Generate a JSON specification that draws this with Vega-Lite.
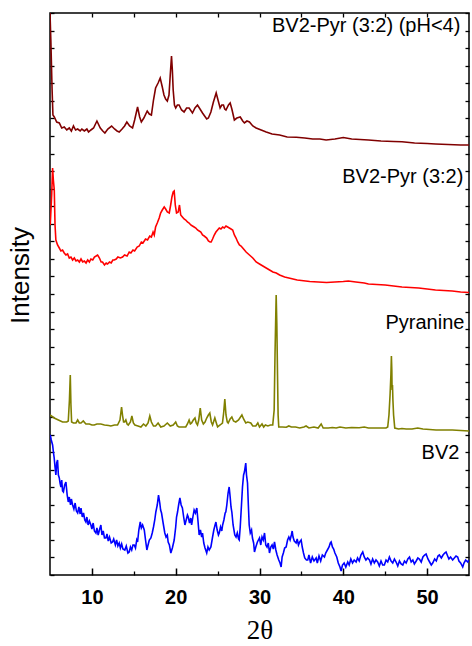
{
  "$schema": "https://vega.github.io/schema/vega-lite/v6.json",
  "autosize": {"type": "none"},
  "width": 419,
  "height": 562,
  "padding": {"left": 50, "top": 13, "right": 3, "bottom": 71},
  "background": "white",
  "config": {"view": {"stroke": "black", "strokeWidth": 1.5}},
  "datasets": {
    "labels": [
      {"x": 53.97, "y": 543, "label": "BV2-Pyr (3:2) (pH<4)"},
      {"x": 54.33, "y": 392, "label": "BV2-Pyr (3:2)"},
      {"x": 54.45, "y": 246, "label": "Pyranine"},
      {"x": 53.85, "y": 116, "label": "BV2"}
    ],
    "traces": [
      {"s":"a","x":5.0,"y":562},{"s":"a","x":5.1,"y":535},{"s":"a","x":5.25,"y":485},{"s":"a","x":5.35,"y":460},{"s":"a","x":5.51,"y":458},{"s":"a","x":5.8,"y":453},{"s":"a","x":6.11,"y":452},{"s":"a","x":6.4,"y":447},{"s":"a","x":6.7,"y":448},{"s":"a","x":7.0,"y":445},{"s":"a","x":7.3,"y":447},{"s":"a","x":7.55,"y":444},{"s":"a","x":7.8,"y":449},{"s":"a","x":8.05,"y":445},{"s":"a","x":8.3,"y":446},{"s":"a","x":8.6,"y":444},{"s":"a","x":8.8,"y":446},{"s":"a","x":9.1,"y":444},{"s":"a","x":9.4,"y":446},{"s":"a","x":9.6,"y":443},{"s":"a","x":9.88,"y":445},{"s":"a","x":10.2,"y":447},{"s":"a","x":10.6,"y":454},{"s":"a","x":11.0,"y":447},{"s":"a","x":11.3,"y":444},{"s":"a","x":11.55,"y":442},{"s":"a","x":11.9,"y":446},{"s":"a","x":12.35,"y":449},{"s":"a","x":12.7,"y":446},{"s":"a","x":13.0,"y":444},{"s":"a","x":13.26,"y":443},{"s":"a","x":13.6,"y":446},{"s":"a","x":13.9,"y":449},{"s":"a","x":14.17,"y":453},{"s":"a","x":14.5,"y":449},{"s":"a","x":14.85,"y":447},{"s":"a","x":15.1,"y":455},{"s":"a","x":15.45,"y":468},{"s":"a","x":15.7,"y":458},{"s":"a","x":15.9,"y":453},{"s":"a","x":16.2,"y":457},{"s":"a","x":16.6,"y":464},{"s":"a","x":16.85,"y":461},{"s":"a","x":17.1,"y":460},{"s":"a","x":17.35,"y":475},{"s":"a","x":17.6,"y":487},{"s":"a","x":17.9,"y":492},{"s":"a","x":18.15,"y":497},{"s":"a","x":18.4,"y":488},{"s":"a","x":18.6,"y":480},{"s":"a","x":18.8,"y":476},{"s":"a","x":19.0,"y":474},{"s":"a","x":19.2,"y":480},{"s":"a","x":19.35,"y":500},{"s":"a","x":19.5,"y":519},{"s":"a","x":19.6,"y":505},{"s":"a","x":19.7,"y":485},{"s":"a","x":19.85,"y":470},{"s":"a","x":20.0,"y":467},{"s":"a","x":20.2,"y":470},{"s":"a","x":20.4,"y":470},{"s":"a","x":20.7,"y":465},{"s":"a","x":21.0,"y":463},{"s":"a","x":21.3,"y":467},{"s":"a","x":21.6,"y":467},{"s":"a","x":22.0,"y":462},{"s":"a","x":22.3,"y":467},{"s":"a","x":22.6,"y":470},{"s":"a","x":22.9,"y":466},{"s":"a","x":23.2,"y":462},{"s":"a","x":23.45,"y":459},{"s":"a","x":23.7,"y":456},{"s":"a","x":23.9,"y":457},{"s":"a","x":24.2,"y":463},{"s":"a","x":24.5,"y":473},{"s":"a","x":24.83,"y":482},{"s":"a","x":25.05,"y":475},{"s":"a","x":25.3,"y":467},{"s":"a","x":25.5,"y":470},{"s":"a","x":25.7,"y":470},{"s":"a","x":25.85,"y":466},{"s":"a","x":26.0,"y":465},{"s":"a","x":26.3,"y":470},{"s":"a","x":26.5,"y":472},{"s":"a","x":26.7,"y":466},{"s":"a","x":27.0,"y":455},{"s":"a","x":27.3,"y":457},{"s":"a","x":27.7,"y":458},{"s":"a","x":28.0,"y":454},{"s":"a","x":28.2,"y":452},{"s":"a","x":28.5,"y":454},{"s":"a","x":28.8,"y":453},{"s":"a","x":29.2,"y":449},{"s":"a","x":29.6,"y":447},{"s":"a","x":30.2,"y":445},{"s":"a","x":30.8,"y":443},{"s":"a","x":31.5,"y":441},{"s":"a","x":32.4,"y":440},{"s":"a","x":33.3,"y":438},{"s":"a","x":34.4,"y":437.7},{"s":"a","x":35.4,"y":437},{"s":"a","x":36.35,"y":436},{"s":"a","x":37.2,"y":436},{"s":"a","x":37.95,"y":435},{"s":"a","x":39.0,"y":436},{"s":"a","x":40.0,"y":437.5},{"s":"a","x":41.0,"y":436},{"s":"a","x":42.0,"y":435.5},{"s":"a","x":43.0,"y":435},{"s":"a","x":44.5,"y":434},{"s":"a","x":46.0,"y":433.5},{"s":"a","x":47.0,"y":433.3},{"s":"a","x":48.5,"y":432},{"s":"a","x":50.0,"y":431.5},{"s":"a","x":51.0,"y":431},{"s":"a","x":52.5,"y":430.5},{"s":"a","x":54.0,"y":430},{"s":"a","x":55.0,"y":430},

      {"s":"b","x":5.03,"y":350},{"s":"b","x":5.2,"y":380},{"s":"b","x":5.31,"y":407},{"s":"b","x":5.4,"y":395},{"s":"b","x":5.51,"y":385},{"s":"b","x":5.6,"y":350},{"s":"b","x":5.7,"y":335},{"s":"b","x":5.9,"y":330},{"s":"b","x":6.11,"y":327},{"s":"b","x":6.3,"y":324},{"s":"b","x":6.5,"y":325},{"s":"b","x":6.7,"y":322},{"s":"b","x":6.9,"y":320},{"s":"b","x":7.1,"y":321},{"s":"b","x":7.3,"y":317},{"s":"b","x":7.5,"y":318},{"s":"b","x":7.7,"y":315},{"s":"b","x":7.9,"y":317},{"s":"b","x":8.1,"y":314},{"s":"b","x":8.3,"y":315},{"s":"b","x":8.5,"y":313},{"s":"b","x":8.7,"y":316},{"s":"b","x":8.9,"y":313},{"s":"b","x":9.1,"y":314},{"s":"b","x":9.3,"y":312},{"s":"b","x":9.5,"y":315},{"s":"b","x":9.7,"y":313},{"s":"b","x":9.88,"y":316},{"s":"b","x":10.1,"y":315},{"s":"b","x":10.3,"y":318},{"s":"b","x":10.5,"y":319},{"s":"b","x":10.68,"y":320},{"s":"b","x":10.9,"y":317},{"s":"b","x":11.1,"y":313},{"s":"b","x":11.27,"y":313},{"s":"b","x":11.5,"y":310},{"s":"b","x":11.7,"y":312},{"s":"b","x":11.87,"y":311},{"s":"b","x":12.1,"y":313},{"s":"b","x":12.3,"y":312},{"s":"b","x":12.5,"y":315},{"s":"b","x":12.67,"y":315},{"s":"b","x":12.9,"y":316},{"s":"b","x":13.1,"y":318},{"s":"b","x":13.4,"y":317},{"s":"b","x":13.66,"y":318},{"s":"b","x":13.9,"y":320},{"s":"b","x":14.2,"y":319},{"s":"b","x":14.45,"y":323},{"s":"b","x":14.65,"y":322},{"s":"b","x":14.9,"y":325},{"s":"b","x":15.1,"y":324},{"s":"b","x":15.4,"y":328},{"s":"b","x":15.65,"y":329},{"s":"b","x":15.9,"y":333},{"s":"b","x":16.1,"y":332},{"s":"b","x":16.4,"y":336},{"s":"b","x":16.64,"y":335},{"s":"b","x":16.9,"y":339},{"s":"b","x":17.1,"y":338},{"s":"b","x":17.3,"y":343},{"s":"b","x":17.44,"y":340},{"s":"b","x":17.6,"y":348},{"s":"b","x":17.8,"y":352},{"s":"b","x":18.03,"y":357},{"s":"b","x":18.2,"y":362},{"s":"b","x":18.4,"y":365},{"s":"b","x":18.63,"y":368},{"s":"b","x":18.8,"y":366},{"s":"b","x":19.0,"y":363},{"s":"b","x":19.23,"y":362},{"s":"b","x":19.4,"y":370},{"s":"b","x":19.55,"y":378},{"s":"b","x":19.7,"y":383},{"s":"b","x":19.82,"y":384},{"s":"b","x":19.95,"y":370},{"s":"b","x":20.1,"y":362},{"s":"b","x":20.3,"y":363},{"s":"b","x":20.45,"y":370},{"s":"b","x":20.6,"y":360},{"s":"b","x":20.8,"y":358},{"s":"b","x":21.0,"y":356},{"s":"b","x":21.2,"y":355},{"s":"b","x":21.4,"y":353},{"s":"b","x":21.6,"y":352},{"s":"b","x":21.8,"y":350},{"s":"b","x":22.0,"y":349},{"s":"b","x":22.2,"y":348},{"s":"b","x":22.4,"y":347},{"s":"b","x":22.6,"y":345},{"s":"b","x":22.8,"y":344},{"s":"b","x":23.0,"y":343},{"s":"b","x":23.2,"y":340},{"s":"b","x":23.4,"y":339},{"s":"b","x":23.7,"y":337},{"s":"b","x":23.9,"y":334},{"s":"b","x":24.1,"y":333},{"s":"b","x":24.23,"y":333},{"s":"b","x":24.4,"y":336},{"s":"b","x":24.6,"y":340},{"s":"b","x":24.8,"y":343},{"s":"b","x":25.0,"y":345},{"s":"b","x":25.2,"y":347},{"s":"b","x":25.4,"y":346},{"s":"b","x":25.6,"y":348},{"s":"b","x":25.8,"y":347},{"s":"b","x":26.0,"y":349},{"s":"b","x":26.2,"y":348},{"s":"b","x":26.4,"y":347},{"s":"b","x":26.6,"y":346},{"s":"b","x":26.8,"y":345},{"s":"b","x":27.0,"y":340},{"s":"b","x":27.2,"y":337},{"s":"b","x":27.4,"y":333},{"s":"b","x":27.6,"y":330},{"s":"b","x":27.8,"y":329},{"s":"b","x":28.0,"y":327},{"s":"b","x":28.4,"y":323},{"s":"b","x":28.8,"y":320},{"s":"b","x":29.2,"y":317},{"s":"b","x":29.6,"y":313},{"s":"b","x":30.0,"y":311},{"s":"b","x":30.4,"y":309},{"s":"b","x":30.8,"y":307},{"s":"b","x":31.2,"y":305},{"s":"b","x":31.6,"y":303},{"s":"b","x":32.0,"y":302},{"s":"b","x":32.4,"y":300},{"s":"b","x":33.0,"y":298},{"s":"b","x":33.5,"y":297},{"s":"b","x":34.0,"y":296},{"s":"b","x":34.5,"y":295},{"s":"b","x":35.0,"y":294.5},{"s":"b","x":35.5,"y":294},{"s":"b","x":36.0,"y":293.5},{"s":"b","x":37.0,"y":293},{"s":"b","x":38.0,"y":292.5},{"s":"b","x":39.0,"y":293},{"s":"b","x":40.0,"y":293.5},{"s":"b","x":40.6,"y":294},{"s":"b","x":41.5,"y":293},{"s":"b","x":42.5,"y":292},{"s":"b","x":43.0,"y":291},{"s":"b","x":44.0,"y":290.5},{"s":"b","x":45.0,"y":290},{"s":"b","x":46.0,"y":289},{"s":"b","x":47.0,"y":288},{"s":"b","x":48.0,"y":287.5},{"s":"b","x":49.0,"y":287},{"s":"b","x":50.0,"y":286},{"s":"b","x":51.0,"y":285},{"s":"b","x":52.0,"y":284.5},{"s":"b","x":53.0,"y":284},{"s":"b","x":54.0,"y":283},{"s":"b","x":55.0,"y":282.5},

      {"s":"c","x":5.0,"y":160},{"s":"c","x":5.5,"y":157},{"s":"c","x":6.0,"y":155},{"s":"c","x":6.5,"y":153},{"s":"c","x":7.0,"y":153},{"s":"c","x":7.18,"y":154},{"s":"c","x":7.32,"y":175},{"s":"c","x":7.42,"y":200},{"s":"c","x":7.5,"y":170},{"s":"c","x":7.58,"y":153},{"s":"c","x":7.8,"y":152},{"s":"c","x":8.1,"y":152},{"s":"c","x":8.3,"y":155},{"s":"c","x":8.5,"y":152},{"s":"c","x":8.7,"y":152},{"s":"c","x":8.97,"y":154},{"s":"c","x":9.28,"y":151},{"s":"c","x":9.7,"y":151},{"s":"c","x":10.0,"y":150},{"s":"c","x":10.28,"y":150},{"s":"c","x":10.6,"y":151},{"s":"c","x":11.07,"y":151},{"s":"c","x":11.5,"y":150},{"s":"c","x":12.0,"y":149.5},{"s":"c","x":12.26,"y":149},{"s":"c","x":12.7,"y":150},{"s":"c","x":13.06,"y":150},{"s":"c","x":13.35,"y":155},{"s":"c","x":13.54,"y":168},{"s":"c","x":13.65,"y":160},{"s":"c","x":13.78,"y":153},{"s":"c","x":13.9,"y":153},{"s":"c","x":14.05,"y":155},{"s":"c","x":14.2,"y":151},{"s":"c","x":14.34,"y":150},{"s":"c","x":14.6,"y":153},{"s":"c","x":14.77,"y":159},{"s":"c","x":14.95,"y":152},{"s":"c","x":15.13,"y":150},{"s":"c","x":15.5,"y":149},{"s":"c","x":15.85,"y":148},{"s":"c","x":16.16,"y":151},{"s":"c","x":16.44,"y":149},{"s":"c","x":16.7,"y":152},{"s":"c","x":16.91,"y":159},{"s":"c","x":17.1,"y":153},{"s":"c","x":17.35,"y":149},{"s":"c","x":17.6,"y":149},{"s":"c","x":17.9,"y":152},{"s":"c","x":18.22,"y":148},{"s":"c","x":18.6,"y":149},{"s":"c","x":19.0,"y":152},{"s":"c","x":19.35,"y":149},{"s":"c","x":19.7,"y":150},{"s":"c","x":20.0,"y":153},{"s":"c","x":20.2,"y":149},{"s":"c","x":20.4,"y":148},{"s":"c","x":20.8,"y":148},{"s":"c","x":21.2,"y":148},{"s":"c","x":21.4,"y":151},{"s":"c","x":21.6,"y":155},{"s":"c","x":21.75,"y":151},{"s":"c","x":21.9,"y":152},{"s":"c","x":22.1,"y":155},{"s":"c","x":22.3,"y":157},{"s":"c","x":22.45,"y":152},{"s":"c","x":22.6,"y":150},{"s":"c","x":22.75,"y":155},{"s":"c","x":22.93,"y":167},{"s":"c","x":23.1,"y":155},{"s":"c","x":23.3,"y":151},{"s":"c","x":23.5,"y":153},{"s":"c","x":23.7,"y":157},{"s":"c","x":23.9,"y":160},{"s":"c","x":24.07,"y":162},{"s":"c","x":24.25,"y":153},{"s":"c","x":24.4,"y":150},{"s":"c","x":24.55,"y":154},{"s":"c","x":24.67,"y":157},{"s":"c","x":24.85,"y":152},{"s":"c","x":25.0,"y":148},{"s":"c","x":25.3,"y":150},{"s":"c","x":25.58,"y":152},{"s":"c","x":25.72,"y":162},{"s":"c","x":25.86,"y":176},{"s":"c","x":26.0,"y":160},{"s":"c","x":26.15,"y":153},{"s":"c","x":26.26,"y":152},{"s":"c","x":26.5,"y":156},{"s":"c","x":26.7,"y":158},{"s":"c","x":26.9,"y":154},{"s":"c","x":27.17,"y":153},{"s":"c","x":27.5,"y":155},{"s":"c","x":27.9,"y":160},{"s":"c","x":28.1,"y":156},{"s":"c","x":28.36,"y":152},{"s":"c","x":28.6,"y":153},{"s":"c","x":28.96,"y":152},{"s":"c","x":29.2,"y":149},{"s":"c","x":29.56,"y":149},{"s":"c","x":29.8,"y":152},{"s":"c","x":30.0,"y":148},{"s":"c","x":30.3,"y":151},{"s":"c","x":30.5,"y":148},{"s":"c","x":30.7,"y":150},{"s":"c","x":31.0,"y":149},{"s":"c","x":31.3,"y":150},{"s":"c","x":31.58,"y":150},{"s":"c","x":31.75,"y":165},{"s":"c","x":31.85,"y":220},{"s":"c","x":31.99,"y":280},{"s":"c","x":32.07,"y":250},{"s":"c","x":32.15,"y":200},{"s":"c","x":32.22,"y":160},{"s":"c","x":32.3,"y":148},{"s":"c","x":32.7,"y":148},{"s":"c","x":33.2,"y":147.7},{"s":"c","x":33.5,"y":149},{"s":"c","x":33.8,"y":148},{"s":"c","x":34.3,"y":148},{"s":"c","x":34.8,"y":147},{"s":"c","x":35.3,"y":148},{"s":"c","x":35.56,"y":149},{"s":"c","x":35.9,"y":147},{"s":"c","x":36.5,"y":148},{"s":"c","x":37.0,"y":147},{"s":"c","x":37.36,"y":151},{"s":"c","x":37.6,"y":147},{"s":"c","x":38.2,"y":147},{"s":"c","x":38.7,"y":147.5},{"s":"c","x":39.15,"y":147},{"s":"c","x":39.6,"y":148},{"s":"c","x":40.3,"y":147},{"s":"c","x":41.0,"y":147.5},{"s":"c","x":41.9,"y":147.3},{"s":"c","x":42.5,"y":148},{"s":"c","x":43.0,"y":147},{"s":"c","x":43.6,"y":147},{"s":"c","x":44.2,"y":147},{"s":"c","x":44.7,"y":147},{"s":"c","x":45.1,"y":147},{"s":"c","x":45.3,"y":148},{"s":"c","x":45.45,"y":160},{"s":"c","x":45.58,"y":180},{"s":"c","x":45.68,"y":200},{"s":"c","x":45.74,"y":219},{"s":"c","x":45.79,"y":205},{"s":"c","x":45.82,"y":185},{"s":"c","x":45.87,"y":190},{"s":"c","x":45.92,"y":175},{"s":"c","x":46.0,"y":160},{"s":"c","x":46.14,"y":147},{"s":"c","x":46.6,"y":146},{"s":"c","x":47.0,"y":146.5},{"s":"c","x":47.5,"y":146},{"s":"c","x":48.2,"y":146},{"s":"c","x":48.88,"y":147},{"s":"c","x":49.5,"y":146},{"s":"c","x":50.3,"y":145.5},{"s":"c","x":51.07,"y":145},{"s":"c","x":52.0,"y":145},{"s":"c","x":53.0,"y":145},{"s":"c","x":54.0,"y":144.5},{"s":"c","x":55.0,"y":144},

      {"s":"d","x":5.03,"y":140},{"s":"d","x":5.15,"y":135},{"s":"d","x":5.31,"y":130},{"s":"d","x":5.42,"y":122},{"s":"d","x":5.5,"y":117},{"s":"d","x":5.6,"y":108},{"s":"d","x":5.7,"y":100},{"s":"d","x":5.8,"y":112},{"s":"d","x":5.9,"y":115},{"s":"d","x":6.0,"y":100},{"s":"d","x":6.11,"y":97},{"s":"d","x":6.2,"y":92},{"s":"d","x":6.3,"y":88},{"s":"d","x":6.4,"y":95},{"s":"d","x":6.5,"y":84},{"s":"d","x":6.6,"y":83},{"s":"d","x":6.75,"y":90},{"s":"d","x":6.9,"y":93},{"s":"d","x":7.05,"y":80},{"s":"d","x":7.18,"y":73},{"s":"d","x":7.3,"y":78},{"s":"d","x":7.45,"y":70},{"s":"d","x":7.55,"y":76},{"s":"d","x":7.7,"y":70},{"s":"d","x":7.85,"y":66},{"s":"d","x":8.0,"y":72},{"s":"d","x":8.15,"y":64},{"s":"d","x":8.3,"y":62},{"s":"d","x":8.45,"y":68},{"s":"d","x":8.6,"y":61},{"s":"d","x":8.7,"y":67},{"s":"d","x":8.85,"y":58},{"s":"d","x":9.0,"y":62},{"s":"d","x":9.15,"y":55},{"s":"d","x":9.28,"y":53},{"s":"d","x":9.4,"y":58},{"s":"d","x":9.55,"y":50},{"s":"d","x":9.7,"y":54},{"s":"d","x":9.88,"y":50},{"s":"d","x":10.0,"y":46},{"s":"d","x":10.15,"y":52},{"s":"d","x":10.3,"y":44},{"s":"d","x":10.48,"y":42},{"s":"d","x":10.6,"y":47},{"s":"d","x":10.75,"y":40},{"s":"d","x":10.9,"y":45},{"s":"d","x":11.07,"y":50},{"s":"d","x":11.2,"y":40},{"s":"d","x":11.35,"y":44},{"s":"d","x":11.5,"y":37},{"s":"d","x":11.67,"y":37},{"s":"d","x":11.8,"y":41},{"s":"d","x":11.95,"y":34},{"s":"d","x":12.1,"y":38},{"s":"d","x":12.3,"y":32},{"s":"d","x":12.46,"y":33},{"s":"d","x":12.6,"y":36},{"s":"d","x":12.8,"y":30},{"s":"d","x":12.95,"y":35},{"s":"d","x":13.1,"y":29},{"s":"d","x":13.26,"y":32},{"s":"d","x":13.4,"y":27},{"s":"d","x":13.55,"y":31},{"s":"d","x":13.7,"y":26},{"s":"d","x":13.93,"y":25},{"s":"d","x":14.1,"y":29},{"s":"d","x":14.3,"y":22},{"s":"d","x":14.45,"y":23},{"s":"d","x":14.6,"y":28},{"s":"d","x":14.75,"y":25},{"s":"d","x":14.9,"y":30},{"s":"d","x":15.05,"y":30},{"s":"d","x":15.2,"y":27},{"s":"d","x":15.35,"y":35},{"s":"d","x":15.45,"y":33},{"s":"d","x":15.6,"y":45},{"s":"d","x":15.77,"y":53},{"s":"d","x":15.9,"y":47},{"s":"d","x":16.05,"y":50},{"s":"d","x":16.25,"y":45},{"s":"d","x":16.4,"y":35},{"s":"d","x":16.56,"y":25},{"s":"d","x":16.7,"y":30},{"s":"d","x":16.85,"y":35},{"s":"d","x":17.04,"y":37},{"s":"d","x":17.2,"y":42},{"s":"d","x":17.35,"y":48},{"s":"d","x":17.5,"y":55},{"s":"d","x":17.63,"y":63},{"s":"d","x":17.8,"y":70},{"s":"d","x":17.95,"y":80},{"s":"d","x":18.1,"y":72},{"s":"d","x":18.2,"y":65},{"s":"d","x":18.31,"y":62},{"s":"d","x":18.5,"y":52},{"s":"d","x":18.7,"y":42},{"s":"d","x":18.85,"y":38},{"s":"d","x":19.0,"y":40},{"s":"d","x":19.1,"y":33},{"s":"d","x":19.25,"y":30},{"s":"d","x":19.42,"y":22},{"s":"d","x":19.6,"y":27},{"s":"d","x":19.82,"y":35},{"s":"d","x":20.0,"y":48},{"s":"d","x":20.1,"y":58},{"s":"d","x":20.22,"y":63},{"s":"d","x":20.35,"y":70},{"s":"d","x":20.5,"y":77},{"s":"d","x":20.65,"y":70},{"s":"d","x":20.8,"y":67},{"s":"d","x":20.95,"y":58},{"s":"d","x":21.1,"y":50},{"s":"d","x":21.25,"y":55},{"s":"d","x":21.4,"y":60},{"s":"d","x":21.5,"y":58},{"s":"d","x":21.65,"y":52},{"s":"d","x":21.8,"y":57},{"s":"d","x":21.9,"y":50},{"s":"d","x":22.05,"y":58},{"s":"d","x":22.2,"y":65},{"s":"d","x":22.35,"y":62},{"s":"d","x":22.52,"y":67},{"s":"d","x":22.65,"y":55},{"s":"d","x":22.8,"y":40},{"s":"d","x":22.95,"y":45},{"s":"d","x":23.1,"y":38},{"s":"d","x":23.2,"y":42},{"s":"d","x":23.35,"y":32},{"s":"d","x":23.5,"y":27},{"s":"d","x":23.7,"y":22},{"s":"d","x":23.85,"y":28},{"s":"d","x":24.0,"y":25},{"s":"d","x":24.2,"y":28},{"s":"d","x":24.4,"y":38},{"s":"d","x":24.55,"y":45},{"s":"d","x":24.7,"y":50},{"s":"d","x":24.8,"y":53},{"s":"d","x":24.95,"y":45},{"s":"d","x":25.1,"y":40},{"s":"d","x":25.2,"y":42},{"s":"d","x":25.35,"y":48},{"s":"d","x":25.5,"y":44},{"s":"d","x":25.6,"y":50},{"s":"d","x":25.75,"y":55},{"s":"d","x":25.9,"y":62},{"s":"d","x":25.98,"y":63},{"s":"d","x":26.1,"y":70},{"s":"d","x":26.25,"y":82},{"s":"d","x":26.38,"y":88},{"s":"d","x":26.5,"y":78},{"s":"d","x":26.6,"y":68},{"s":"d","x":26.7,"y":63},{"s":"d","x":26.85,"y":50},{"s":"d","x":27.05,"y":40},{"s":"d","x":27.2,"y":38},{"s":"d","x":27.35,"y":42},{"s":"d","x":27.5,"y":36},{"s":"d","x":27.58,"y":35},{"s":"d","x":27.7,"y":48},{"s":"d","x":27.85,"y":70},{"s":"d","x":27.97,"y":88},{"s":"d","x":28.1,"y":100},{"s":"d","x":28.2,"y":103},{"s":"d","x":28.36,"y":112},{"s":"d","x":28.45,"y":100},{"s":"d","x":28.57,"y":92},{"s":"d","x":28.67,"y":70},{"s":"d","x":28.77,"y":50},{"s":"d","x":28.9,"y":42},{"s":"d","x":29.05,"y":45},{"s":"d","x":29.16,"y":37},{"s":"d","x":29.3,"y":32},{"s":"d","x":29.4,"y":23},{"s":"d","x":29.56,"y":28},{"s":"d","x":29.75,"y":33},{"s":"d","x":30.0,"y":37},{"s":"d","x":30.15,"y":30},{"s":"d","x":30.3,"y":38},{"s":"d","x":30.45,"y":35},{"s":"d","x":30.6,"y":42},{"s":"d","x":30.75,"y":30},{"s":"d","x":30.9,"y":28},{"s":"d","x":31.05,"y":32},{"s":"d","x":31.19,"y":22},{"s":"d","x":31.35,"y":28},{"s":"d","x":31.5,"y":30},{"s":"d","x":31.65,"y":26},{"s":"d","x":31.79,"y":33},{"s":"d","x":31.95,"y":25},{"s":"d","x":32.1,"y":20},{"s":"d","x":32.3,"y":15},{"s":"d","x":32.45,"y":12},{"s":"d","x":32.58,"y":8},{"s":"d","x":32.7,"y":18},{"s":"d","x":32.85,"y":22},{"s":"d","x":33.0,"y":27},{"s":"d","x":33.18,"y":28},{"s":"d","x":33.35,"y":35},{"s":"d","x":33.5,"y":38},{"s":"d","x":33.65,"y":35},{"s":"d","x":33.8,"y":40},{"s":"d","x":33.9,"y":44},{"s":"d","x":34.0,"y":38},{"s":"d","x":34.15,"y":34},{"s":"d","x":34.37,"y":32},{"s":"d","x":34.5,"y":36},{"s":"d","x":34.65,"y":30},{"s":"d","x":34.8,"y":33},{"s":"d","x":34.97,"y":35},{"s":"d","x":35.1,"y":28},{"s":"d","x":35.25,"y":22},{"s":"d","x":35.4,"y":17},{"s":"d","x":35.6,"y":15},{"s":"d","x":35.76,"y":15},{"s":"d","x":35.9,"y":20},{"s":"d","x":36.1,"y":12},{"s":"d","x":36.3,"y":18},{"s":"d","x":36.5,"y":14},{"s":"d","x":36.76,"y":17},{"s":"d","x":36.9,"y":12},{"s":"d","x":37.1,"y":19},{"s":"d","x":37.3,"y":14},{"s":"d","x":37.5,"y":20},{"s":"d","x":37.75,"y":18},{"s":"d","x":37.9,"y":22},{"s":"d","x":38.1,"y":25},{"s":"d","x":38.3,"y":28},{"s":"d","x":38.45,"y":32},{"s":"d","x":38.55,"y":33},{"s":"d","x":38.7,"y":28},{"s":"d","x":38.85,"y":26},{"s":"d","x":39.0,"y":22},{"s":"d","x":39.22,"y":18},{"s":"d","x":39.4,"y":12},{"s":"d","x":39.6,"y":8},{"s":"d","x":39.74,"y":4},{"s":"d","x":39.9,"y":10},{"s":"d","x":40.1,"y":12},{"s":"d","x":40.3,"y":8},{"s":"d","x":40.53,"y":13},{"s":"d","x":40.7,"y":10},{"s":"d","x":40.9,"y":16},{"s":"d","x":41.1,"y":12},{"s":"d","x":41.3,"y":15},{"s":"d","x":41.53,"y":13},{"s":"d","x":41.7,"y":17},{"s":"d","x":41.9,"y":14},{"s":"d","x":42.1,"y":20},{"s":"d","x":42.32,"y":23},{"s":"d","x":42.5,"y":18},{"s":"d","x":42.7,"y":15},{"s":"d","x":42.9,"y":17},{"s":"d","x":43.12,"y":15},{"s":"d","x":43.3,"y":11},{"s":"d","x":43.5,"y":16},{"s":"d","x":43.7,"y":12},{"s":"d","x":43.9,"y":15},{"s":"d","x":44.1,"y":13},{"s":"d","x":44.3,"y":9},{"s":"d","x":44.5,"y":14},{"s":"d","x":44.7,"y":10},{"s":"d","x":44.9,"y":10},{"s":"d","x":45.1,"y":15},{"s":"d","x":45.3,"y":13},{"s":"d","x":45.5,"y":18},{"s":"d","x":45.7,"y":14},{"s":"d","x":45.9,"y":12},{"s":"d","x":46.1,"y":16},{"s":"d","x":46.3,"y":13},{"s":"d","x":46.5,"y":9},{"s":"d","x":46.7,"y":14},{"s":"d","x":46.9,"y":11},{"s":"d","x":47.1,"y":10},{"s":"d","x":47.3,"y":14},{"s":"d","x":47.5,"y":12},{"s":"d","x":47.7,"y":16},{"s":"d","x":47.9,"y":18},{"s":"d","x":48.1,"y":13},{"s":"d","x":48.3,"y":15},{"s":"d","x":48.48,"y":11},{"s":"d","x":48.7,"y":14},{"s":"d","x":48.9,"y":17},{"s":"d","x":49.08,"y":16},{"s":"d","x":49.3,"y":13},{"s":"d","x":49.5,"y":18},{"s":"d","x":49.7,"y":20},{"s":"d","x":49.88,"y":21},{"s":"d","x":50.1,"y":16},{"s":"d","x":50.3,"y":13},{"s":"d","x":50.5,"y":10},{"s":"d","x":50.67,"y":12},{"s":"d","x":50.9,"y":16},{"s":"d","x":51.1,"y":14},{"s":"d","x":51.3,"y":19},{"s":"d","x":51.46,"y":20},{"s":"d","x":51.7,"y":17},{"s":"d","x":51.9,"y":20},{"s":"d","x":52.1,"y":22},{"s":"d","x":52.26,"y":23},{"s":"d","x":52.45,"y":19},{"s":"d","x":52.6,"y":16},{"s":"d","x":52.8,"y":18},{"s":"d","x":53.05,"y":15},{"s":"d","x":53.25,"y":17},{"s":"d","x":53.45,"y":19},{"s":"d","x":53.65,"y":18},{"s":"d","x":53.8,"y":14},{"s":"d","x":54.0,"y":12},{"s":"d","x":54.25,"y":8},{"s":"d","x":54.4,"y":12},{"s":"d","x":54.6,"y":15},{"s":"d","x":54.85,"y":13},{"s":"d","x":55.0,"y":15}
    ]
  },
  "resolve": {"axis": {"x": "independent", "y": "independent"}},
  "layer": [
    {
      "data": {"name": "traces"},
      "mark": {"type": "line", "strokeWidth": 1.6, "clip": true},
      "encoding": {
        "x": {
          "field": "x", "type": "quantitative",
          "scale": {"domain": [5, 55], "nice": false, "zero": false},
          "axis": {
            "orient": "bottom", "values": [10, 20, 30, 40, 50], "grid": false, "domain": false,
            "tickSize": -7, "tickWidth": 1.5, "tickColor": "black",
            "labelFont": "Arial", "labelFontWeight": 700, "labelFontSize": 20, "labelColor": "black",
            "labelBaseline": "alphabetic", "labelPadding": 35,
            "title": "2θ", "titleFont": "Liberation Serif", "titleFontSize": 27, "titleFontWeight": "normal",
            "titleColor": "black", "titleBaseline": "alphabetic", "titleY": 63
          }
        },
        "y": {
          "field": "y", "type": "quantitative",
          "scale": {"domain": [0, 562], "nice": false, "zero": false},
          "axis": {
            "orient": "left", "grid": false, "domain": false, "labels": false,
            "values": [0,17.5625,35.125,52.6875,70.25,87.8125,105.375,122.9375,140.5,158.0625,175.625,193.1875,210.75,228.3125,245.875,263.4375,281,298.5625,316.125,333.6875,351.25,368.8125,386.375,403.9375,421.5,439.0625,456.625,474.1875,491.75,509.3125,526.875,544.4375,562],
            "tickSize": -4, "tickWidth": 1.3, "tickColor": "black",
            "title": "Intensity", "titleFont": "Liberation Sans", "titleFontSize": 26, "titleFontWeight": "normal",
            "titleColor": "black", "titleBaseline": "alphabetic", "titleAlign": "center", "titleAngle": -90,
            "titleX": -21.5, "titleY": 262
          }
        },
        "color": {
          "field": "s", "type": "nominal", "legend": null,
          "scale": {"domain": ["a", "b", "c", "d"], "range": ["#800000", "#ff0000", "#808000", "#0000ff"]}
        }
      }
    },
    {
      "data": {"name": "labels"},
      "mark": {"type": "point", "opacity": 0},
      "encoding": {
        "x": {
          "field": "x", "type": "quantitative",
          "axis": {"orient": "bottom", "values": [15, 25, 35, 45], "grid": false, "domain": false, "labels": false, "title": null,
                   "tickSize": -4, "tickWidth": 1.3, "tickColor": "black"}
        },
        "y": {
          "field": "y", "type": "quantitative",
          "axis": {"orient": "right", "grid": false, "domain": false, "labels": false, "title": null,
                   "values": [0,17.5625,35.125,52.6875,70.25,87.8125,105.375,122.9375,140.5,158.0625,175.625,193.1875,210.75,228.3125,245.875,263.4375,281,298.5625,316.125,333.6875,351.25,368.8125,386.375,403.9375,421.5,439.0625,456.625,474.1875,491.75,509.3125,526.875,544.4375,562],
                   "tickSize": -4, "tickWidth": 1.3, "tickColor": "black"}
        }
      }
    },
    {
      "data": {"name": "labels"},
      "mark": {"type": "text", "align": "right", "baseline": "alphabetic", "font": "Liberation Sans", "fontSize": 20, "color": "black"},
      "encoding": {
        "x": {
          "field": "x", "type": "quantitative",
          "axis": {"orient": "top", "values": [10, 15, 20, 25, 30, 35, 40, 45, 50], "grid": false, "domain": false, "labels": false, "title": null,
                   "tickSize": -4, "tickWidth": 1.3, "tickColor": "black"}
        },
        "y": {"field": "y", "type": "quantitative", "axis": null},
        "text": {"field": "label"}
      }
    }
  ]
}
